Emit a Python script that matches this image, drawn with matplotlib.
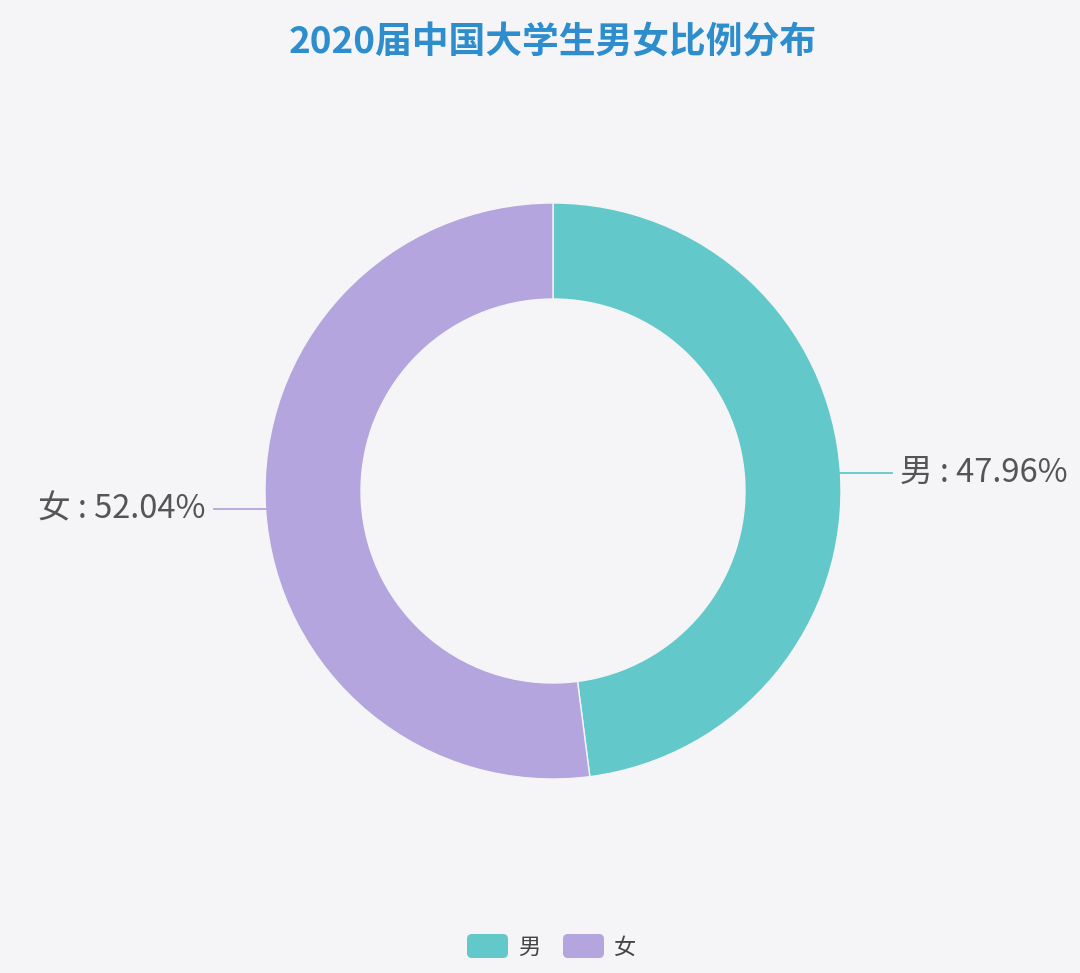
import numpy as np
import matplotlib.pyplot as plt
from matplotlib.patches import FancyBboxPatch

plt.rcParams['font.family'] = ['Noto Sans CJK SC', 'DejaVu Sans']

# data
labels = ['男', '女']
values = [47.96, 52.04]
colors = ['#63c8c9', '#b4a5de']
title = '2020届中国大学生男女比例分布'

W, H = 1080, 973
fig = plt.figure(figsize=(W / 100, H / 100), dpi=100)
fig.patch.set_facecolor('#f5f5f7')
ax = fig.add_axes([0, 0, 1, 1])
ax.set_aspect('equal')

cx, cy = 553, H - 491
r_out, r_in = 288, 192
wedges, _ = ax.pie(values, colors=colors, startangle=90, counterclock=False,
                   radius=r_out, center=(cx, cy), frame=True,
                   wedgeprops=dict(width=r_out - r_in, edgecolor='#f5f5f7', linewidth=1))
ax.set_xlim(0, W)
ax.set_ylim(0, H)
ax.axis('off')

# outside labels with short leader lines
for w, lab, val, col in zip(wedges, labels, values, colors):
    ang = np.deg2rad((w.theta1 + w.theta2) / 2)
    x0 = cx + r_out * np.cos(ang)
    y0 = cy + r_out * np.sin(ang)
    side = 1 if np.cos(ang) >= 0 else -1
    x1 = x0 + side * 52
    ax.plot([x0, x1], [y0, y0], color=col, lw=1.3)
    ax.text(x1 + side * 8, y0, f'{lab} : {val:.2f}%',
            ha='left' if side > 0 else 'right', va='center',
            fontsize=23.5, color='#555555')

# title
ax.text(553, H - 43, title, ha='center', va='center', fontsize=26.5,
        fontweight='bold', color='#2d8dcd')

# legend
lx = 467
for lab, col in zip(labels, colors):
    box = FancyBboxPatch((lx, H - 958), 41, 24, boxstyle='round,pad=0,rounding_size=5',
                         facecolor=col, edgecolor='none')
    ax.add_patch(box)
    ax.text(lx + 51, H - 947, lab, ha='left', va='center', fontsize=16, color='#444444')
    lx += 96

fig.savefig('out.png', dpi=100, facecolor=fig.get_facecolor())
